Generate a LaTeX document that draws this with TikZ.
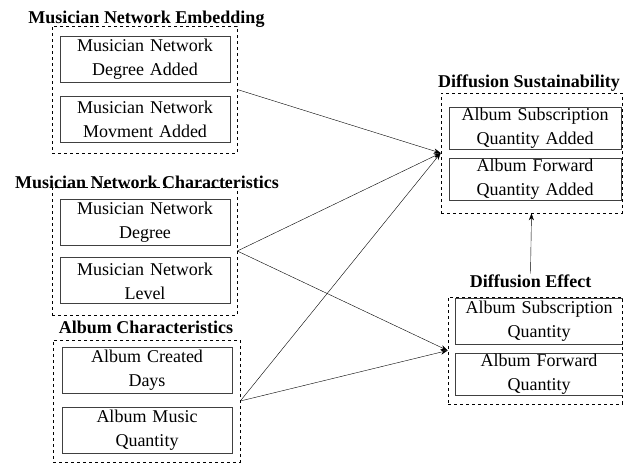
\documentclass[tikz,border=0pt]{standalone}
\usepackage{fontspec}
\setmainfont{Liberation Serif}
\usetikzlibrary{positioning,arrows.meta}

\begin{document}
\begin{tikzpicture}[x=1pt, y=-1pt, >={Stealth[length=7pt,width=5pt]},
  item/.style={rectangle, draw=black!75, line width=0.9pt, text width=166pt, align=center, minimum width=170pt, minimum height=46pt, inner sep=0pt, font=\fontsize{18}{24}\selectfont},
  grp/.style={rectangle, draw, dashed, line width=0.6pt, inner sep=0pt},
  head/.style={anchor=base, inner sep=1pt, font=\fontsize{18}{23}\selectfont\bfseries}]
  \useasboundingbox (0,0) rectangle (623,464);
  % left column
  \node[head] (embt) at (146.5,23.5) {Musician Network Embedding};
  \node[grp, minimum width=185pt, minimum height=127pt] (emb) at (144.5,89.5) {};
  \node[item] (a1) at (145,59.5) {Musician Network\\Degree Added};
  \node[item, below=13pt of a1] (a2) {Musician Network\\Movment Added};
  \node[head] (mcht) at (147,188) {Musician Network Characteristics};
  \node[grp, minimum width=185pt, minimum height=128pt] (mch) at (144.5,251) {};
  \node[item] (b1) at (145,222) {Musician Network\\Degree};
  \node[item, below=12pt of b1] (b2) {Musician Network\\Level};
  \node[head] (albt) at (146,333.5) {Album Characteristics};
  \node[grp, minimum width=187pt, minimum height=122pt] (alb) at (146.5,401) {};
  \node[item] (c1) at (147,370.5) {Album Created\\Days};
  \node[item, below=13pt of c1] (c2) {Album Music\\Quantity};
  % right column
  \node[head] (sust) at (529,87.5) {Diffusion Sustainability};
  \node[grp, minimum width=181pt, minimum height=120pt] (sus) at (531.5,153) {};
  \node[item, minimum width=172pt, minimum height=42pt] (d1) at (535,128.5) {Album Subscription\\Quantity Added};
  \node[item, minimum width=172pt, minimum height=42pt, below=8pt of d1] (d2) {Album Forward\\Quantity Added};
  \node[head] (efft) at (530.5,287.5) {Diffusion Effect};
  \node[grp, minimum width=174pt, minimum height=107pt] (eff) at (535,350.5) {};
  \node[item, minimum width=168pt, minimum height=46pt] (e1) at (539,321.5) {Album Subscription\\Quantity};
  \node[item, minimum width=168pt, minimum height=42pt, below=8pt of e1] (e2) {Album Forward\\Quantity};
  % links
  \draw[->] (emb.east) -- (sus.west);
  \draw[->] (mch.east) -- (sus.west);
  \draw[->] (mch.east) -- (eff.west);
  \draw[->] (alb.east) -- (sus.west);
  \draw[->] (alb.east) -- (eff.west);
  \draw[->] (efft.north) -- (sus.south);
\end{tikzpicture}
\end{document}
